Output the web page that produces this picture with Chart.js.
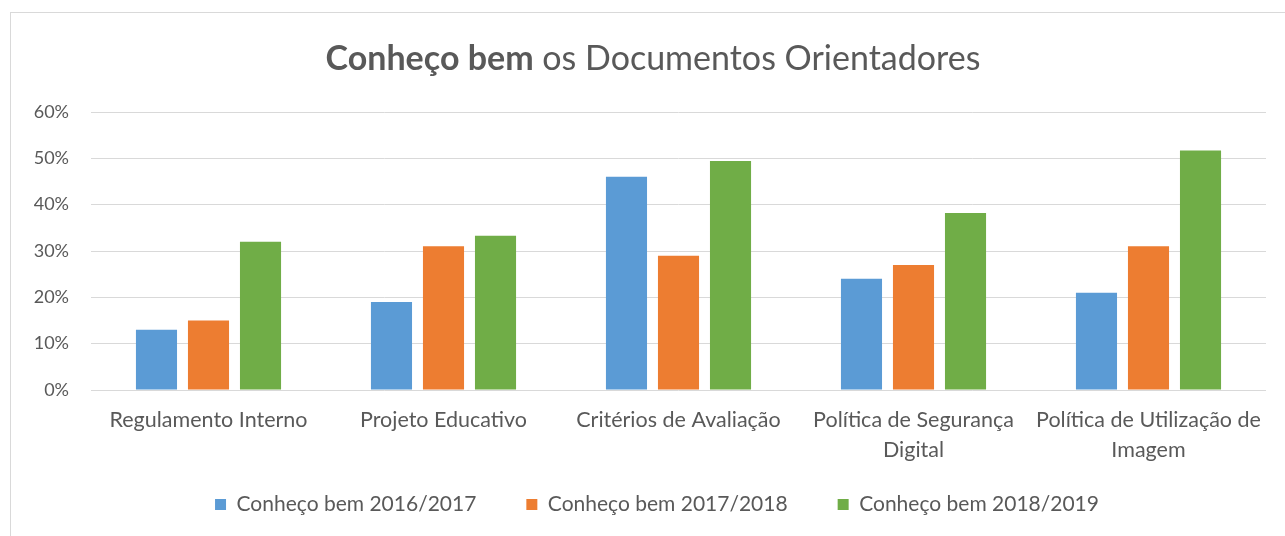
<!DOCTYPE html>
<html>
<head>
<meta charset="utf-8">
<script src="https://cdn.jsdelivr.net/npm/chart.js@4"></script>
<style>
  html, body { margin: 0; padding: 0; background: #fff; }
  #wrap { position: relative; width: 1285px; height: 536px; overflow: hidden; }
  #frame { position: absolute; left: 10px; top: 12px; width: 1290px; height: 540px; border: 1px solid #d9d9d9; box-sizing: border-box; pointer-events: none; }
  canvas { position: absolute; left: 0; top: 0; }
</style>
</head>
<body>
<div id="wrap">
  <div id="frame"></div>
  <canvas id="c" width="1285" height="536"></canvas>
</div>
<script>
const categories = [
  "Regulamento Interno",
  "Projeto Educativo",
  "Critérios de Avaliação",
  ["Política de Segurança", "Digital"],
  ["Política de Utilização de", "Imagem"]
];
const seriesNames = ["Conheço bem 2016/2017", "Conheço bem 2017/2018", "Conheço bem 2018/2019"];
const values2016 = [13, 19, 46, 24, 21];
const values2017 = [15, 31, 29, 27, 31];
const values2018 = [32, 33.3, 49.4, 38.2, 51.7];
const yTicks = [0, 10, 20, 30, 40, 50, 60];
const titleBold = "Conheço bem";
const titleRest = " os Documentos Orientadores";

const FONT = "Lato, 'Open Sans', sans-serif";
const GREY = "#595959";

const titlePlugin = {
  id: "mixedTitle",
  afterDraw(chart) {
    const ctx = chart.ctx;
    ctx.save();
    ctx.fillStyle = GREY;
    ctx.textBaseline = "alphabetic";
    const boldFont = "bold 34px " + FONT;
    const normFont = "34px " + FONT;
    ctx.font = boldFont;
    const w1 = ctx.measureText(titleBold).width;
    ctx.font = normFont;
    const w2 = ctx.measureText(titleRest).width;
    const cx = 653;
    let x = cx - (w1 + w2) / 2;
    ctx.font = boldFont;
    ctx.fillText(titleBold, x, 70);
    ctx.font = normFont;
    ctx.fillText(titleRest, x + w1, 70);
    ctx.restore();
  }
};

// Move the legend box after layout so its items sit where the reference has them.
const legendShift = {
  id: "legendShift",
  afterLayout(chart) {
    const lg = chart.legend;
    if (!lg) return;
    lg.top = 444;
    lg.bottom = 536;
    lg.height = lg.bottom - lg.top;
    lg.left += 24;
    lg.right += 24;
    lg.width = lg.right - lg.left;
  }
};

new Chart(document.getElementById("c"), {
  type: "bar",
  data: {
    labels: categories,
    datasets: [
      { label: seriesNames[0], data: values2016, backgroundColor: "#5B9BD5" },
      { label: seriesNames[1], data: values2017, backgroundColor: "#ED7D31" },
      { label: seriesNames[2], data: values2018, backgroundColor: "#70AD47" }
    ]
  },
  options: {
    responsive: false,
    animation: false,
    devicePixelRatio: 1,
    categoryPercentage: 0.664,
    barPercentage: 0.79,
    layout: { padding: { top: 112, left: 0, right: 19, bottom: 0 } },
    plugins: {
      legend: {
        position: "bottom",
        maxHeight: 66,
        labels: {
          color: GREY,
          font: { family: FONT, size: 21 },
          boxWidth: 11,
          boxHeight: 11,
          padding: 50
        }
      },
      tooltip: { enabled: false },
      title: { display: false }
    },
    scales: {
      x: {
        grid: { display: false, drawTicks: false },
        border: { display: false },
        ticks: {
          color: GREY,
          font: { family: FONT, size: 21.5, lineHeight: 1.4 },
          padding: 15,
          maxRotation: 0,
          autoSkip: false
        },
        afterFit(scale) { scale.height = 80; }
      },
      y: {
        min: 0,
        max: 60,
        afterBuildTicks(scale) { scale.ticks = yTicks.map(v => ({ value: v })); },
        grid: { color: "#d9d9d9", lineWidth: 1, drawTicks: false },
        border: { display: false },
        ticks: {
          color: GREY,
          font: { family: FONT, size: 18 },
          padding: 22,
          callback: v => v + "%"
        },
        afterFit(scale) { scale.width = 91; }
      }
    }
  },
  plugins: [titlePlugin, legendShift]
});
</script>
</body>
</html>
